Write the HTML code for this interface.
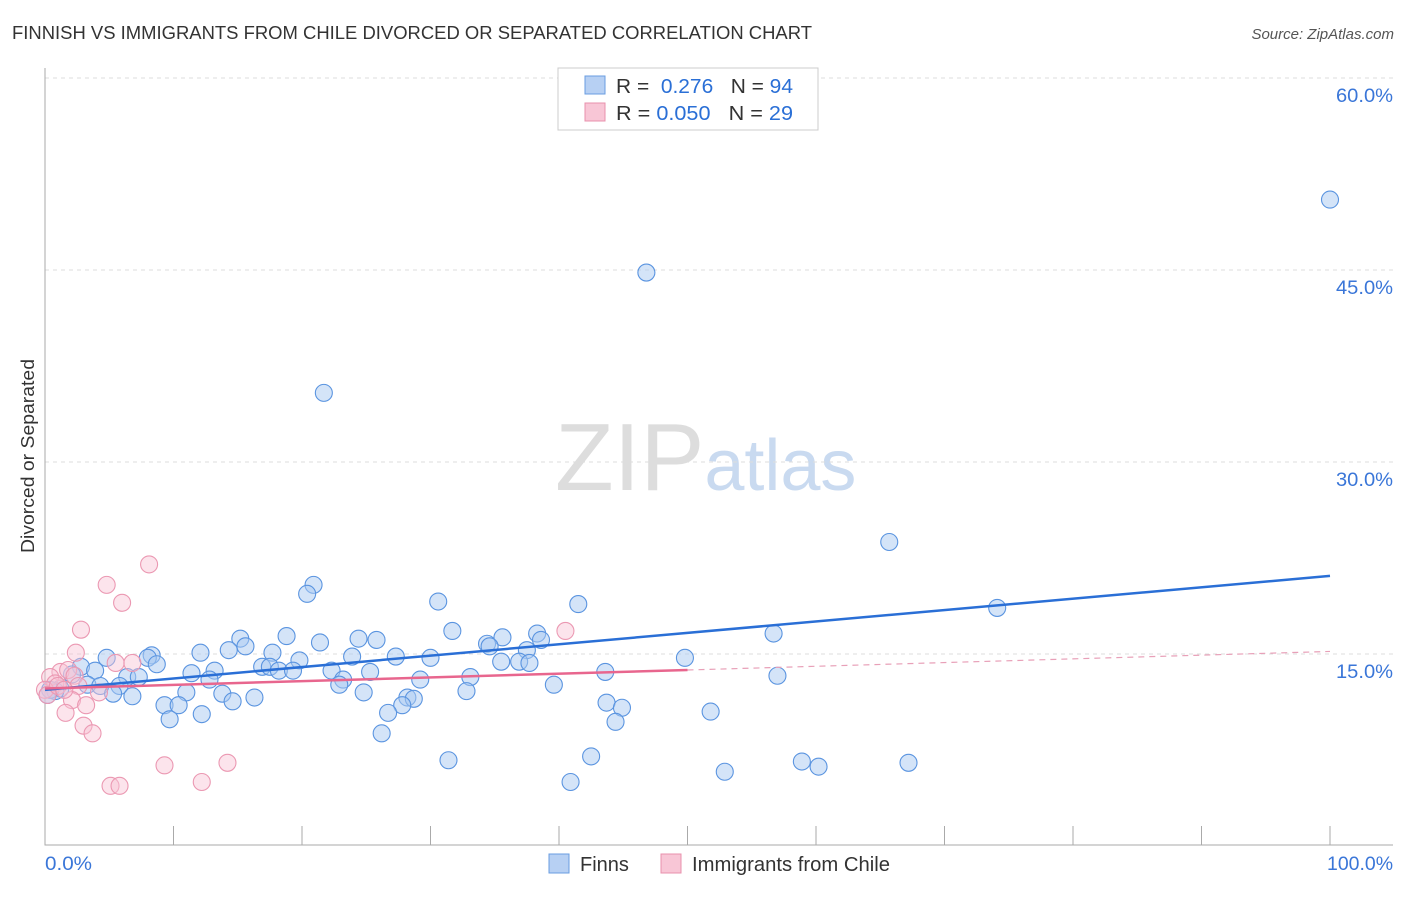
<!DOCTYPE html>
<html><head><meta charset="utf-8"><style>
body{margin:0;background:#fff;font-family:"Liberation Sans",sans-serif;}
svg text{font-family:"Liberation Sans",sans-serif;}
</style></head><body>
<svg id="chart" width="1406" height="892" viewBox="0 0 1406 892">
<text x="12" y="39" font-size="18" fill="#333" textLength="800" lengthAdjust="spacingAndGlyphs">FINNISH VS IMMIGRANTS FROM CHILE DIVORCED OR SEPARATED CORRELATION CHART</text>
<text x="1394" y="39" font-size="15" fill="#555" text-anchor="end" font-style="italic">Source: ZipAtlas.com</text>
<text transform="translate(34,456) rotate(-90)" font-size="18" fill="#333" text-anchor="middle" textLength="194" lengthAdjust="spacingAndGlyphs">Divorced or Separated</text>
<text x="555" y="490" font-size="96" fill="#ddd" font-family="Liberation Serif">ZIP<tspan fill="#c9daf0" font-family="Liberation Sans" font-size="72">atlas</tspan></text>
<g id="grid"></g><g id="axes"></g><g id="finns"></g><g id="chile"></g><g id="lines"></g>
<g>
<rect x="558" y="68" width="260" height="62" fill="#fff" stroke="#ccc"/>
<rect x="585" y="76" width="20" height="18" fill="#b7d0f3" stroke="#6a9de0"/>
<text x="616" y="93" font-size="20" fill="#333" textLength="177" lengthAdjust="spacingAndGlyphs">R = <tspan fill="#2a6fd6">&#160;0.276</tspan>&#160;&#160;&#160;N = <tspan fill="#2a6fd6">94</tspan></text>
<rect x="585" y="103" width="20" height="18" fill="#f8c6d6" stroke="#e890ac"/>
<text x="616" y="120" font-size="20" fill="#333" textLength="177" lengthAdjust="spacingAndGlyphs">R = <tspan fill="#2a6fd6">0.050</tspan>&#160;&#160;&#160;N = <tspan fill="#2a6fd6">29</tspan></text>
</g>
<g>
<rect x="549" y="854" width="20" height="19" fill="#b7d0f3" stroke="#6a9de0"/>
<text x="580" y="871" font-size="20" fill="#333">Finns</text>
<rect x="661" y="854" width="20" height="19" fill="#f8c6d6" stroke="#e890ac"/>
<text x="692" y="871" font-size="20" fill="#333" textLength="198" lengthAdjust="spacingAndGlyphs">Immigrants from Chile</text>
</g>
</svg>
<script>
const finnsX=[100,46.8,21.7,65.7,74.1,20.9,20.4,30.6,41.5,31.7,38.3,38.6,56.7,18.8,15.2,24.4,25.8,21.4,35.6,34.4,34.6,37.5,15.6,12.1,14.3,8.3,8.0,4.8,17.7,23.9,27.3,30.0,19.8,8.7,35.5,36.9,37.7,49.8,2.8,3.9,16.9,17.5,18.2,19.3,22.3,25.3,13.2,11.4,43.6,57.0,2.1,6.4,7.3,12.8,33.1,29.2,23.2,22.9,39.6,3.3,4.3,5.8,1.2,0.8,11.0,32.8,24.8,13.8,5.3,6.8,16.3,28.2,28.7,27.8,14.6,9.3,10.4,43.7,44.9,44.4,51.8,26.7,12.2,9.7,26.2,31.4,42.5,52.9,58.9,60.2,67.2,40.9,0.4,0.2];
const finnsY=[50.5,44.8,35.4,23.75,18.6,20.4,19.7,19.1,18.9,16.8,16.6,16.1,16.6,16.4,16.2,16.2,16.1,15.9,16.3,15.8,15.6,15.3,15.6,15.1,15.3,14.9,14.7,14.7,15.1,14.8,14.8,14.7,14.5,14.2,14.4,14.4,14.3,14.7,14.0,13.7,14.0,14.0,13.7,13.7,13.7,13.6,13.7,13.5,13.6,13.3,13.4,13.2,13.2,13.0,13.2,13.0,13.0,12.6,12.6,12.6,12.5,12.5,12.3,12.1,12.0,12.1,12.0,11.9,11.9,11.7,11.6,11.6,11.5,11.0,11.3,11.0,11.0,11.2,10.8,9.7,10.5,10.4,10.3,9.9,8.8,6.7,7.0,5.8,6.6,6.2,6.5,5.0,12.2,11.8];
const chileX=[8.1,4.8,6.0,2.8,40.5,2.4,5.5,6.8,1.2,1.8,0.4,2.3,0.8,2.6,0,0.2,4.2,2.1,3.2,1.6,3.0,3.7,9.3,14.2,12.2,5.1,5.8,1.0,1.5];
const chileY=[22.0,20.4,19.0,16.9,16.8,15.1,14.3,14.3,13.6,13.75,13.2,13.3,12.7,12.5,12.2,11.8,12.0,11.4,11.0,10.4,9.4,8.8,6.3,6.5,5.0,4.7,4.7,12.5,12.2];
const finnsTrend=[12.2,21.1];
const chileTrend=[12.3,15.2];
const yTicks=[15,30,45,60];
const xTicks=[0,10,20,30,40,50,60,70,80,90,100];
const X=v=>45+v*12.85, Y=v=>846-v*12.8;
const NS='http://www.w3.org/2000/svg';
function mk(t,a,p){const e=document.createElementNS(NS,t);for(const k in a)e.setAttribute(k,a[k]);p.appendChild(e);return e;}
const grid=document.getElementById('grid'),axes=document.getElementById('axes');
yTicks.forEach(v=>{
 const l=mk('line',{x1:45,x2:1393,y1:Y(v),y2:Y(v),stroke:'#ddd','stroke-dasharray':'4,4'},grid);
 
 
 const t=mk('text',{x:1393,y:Y(v)+24,'font-size':19,fill:'#3a76d8','text-anchor':'end',textLength:57,lengthAdjust:'spacingAndGlyphs'},axes);
 t.textContent=v.toFixed(1)+'%';
 
 
});
const ax=mk('path',{d:'M45,68V845H1393',fill:'none',stroke:'#aaa'},axes);


xTicks.forEach(v=>{
 if(v===0)return;
 const l=mk('line',{x1:X(v),x2:X(v),y1:826,y2:845,stroke:'#aaa'},axes);
 
 
});
[[0,'start','0.0%',47],[100,'end','100.0%',66]].forEach(([v,a,s,w])=>{
 const t=mk('text',{x:v===0?45:1393,y:870,'font-size':19,fill:'#3a76d8','text-anchor':a,textLength:w,lengthAdjust:'spacingAndGlyphs'},axes);
 t.textContent=s;
 
 
});
const fg=document.getElementById('finns'),cg=document.getElementById('chile');
finnsX.forEach((x,i)=>{
 const c=mk('circle',{cx:X(x),cy:Y(finnsY[i]),r:8.5,fill:'rgba(170,202,242,0.5)',stroke:'#5a94e0','stroke-width':1.1},fg);
 
 
});
chileX.forEach((x,i)=>{
 const c=mk('circle',{cx:X(x),cy:Y(chileY[i]),r:8.5,fill:'rgba(248,195,212,0.45)',stroke:'#eb98b2','stroke-width':1.1},cg);
 
 
});
const lg=document.getElementById('lines');
const ty=(tr,x)=>tr[0]+(tr[1]-tr[0])*x/100;
const b=mk('line',{x1:X(0),y1:Y(ty(finnsTrend,0)),x2:X(100),y2:Y(ty(finnsTrend,100)),stroke:'#2a6fd6','stroke-width':2.5},lg);


const p=mk('line',{x1:X(0),y1:Y(ty(chileTrend,0)),x2:X(50),y2:Y(ty(chileTrend,50)),stroke:'#e8668e','stroke-width':2.5},lg);


const pd=mk('line',{x1:X(50),y1:Y(ty(chileTrend,50)),x2:X(100),y2:Y(ty(chileTrend,100)),stroke:'#e8a0b8','stroke-width':1.2,'stroke-dasharray':'6,5'},lg);


</script>
</body></html>
